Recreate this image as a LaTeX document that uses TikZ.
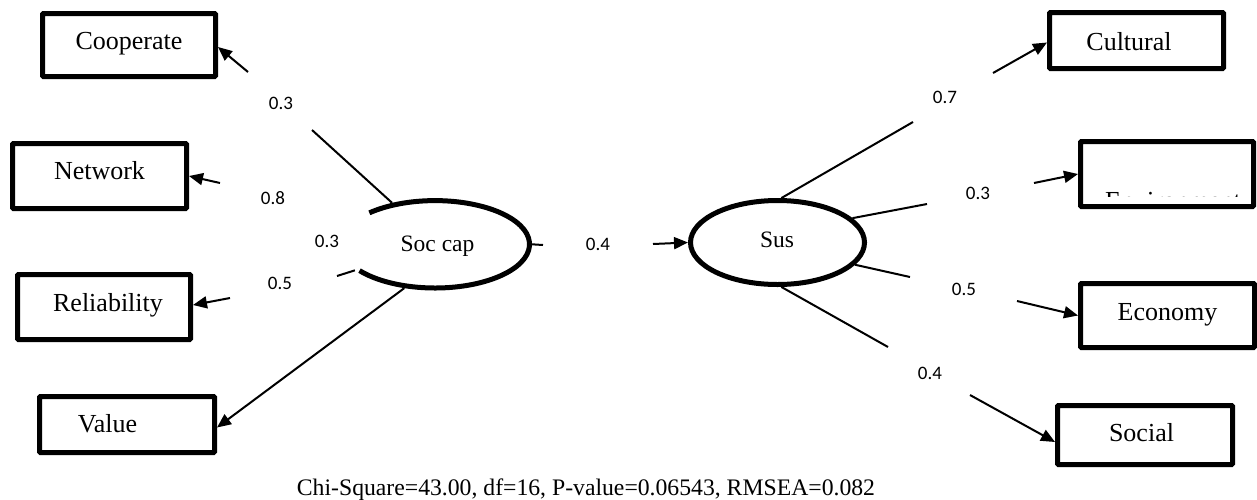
\documentclass[tikz,border=0pt]{standalone}
\usepackage{fontspec}
\setmainfont{Liberation Serif}
\newfontfamily\lblfont{Carlito}
\usetikzlibrary{arrows.meta,shapes.geometric,calc}
\tikzset{
  obsbox/.style={draw, line width=5pt, rounded corners=1pt, inner sep=0pt},
  boxtxt/.style={anchor=base, inner sep=0pt, font=\fontsize{26}{30}\selectfont},
  lat/.style={ellipse, line width=5pt, inner sep=0pt},
  lattxt/.style={anchor=base, inner sep=0pt, font=\fontsize{23.5}{28}\selectfont},
  ln/.style={line width=2pt},
  arr/.style={line width=2pt, -{Triangle[length=14pt,width=12pt]}},
  coef/.style={font=\lblfont\fontsize{19}{22}\selectfont, inner sep=0pt}
}
\begin{document}
\begin{tikzpicture}[x=1pt,y=-1pt]
\useasboundingbox (0,0) rectangle (1257,499);

% observed boxes
\node[obsbox, minimum width=173pt, minimum height=63pt] (coop) at (129,45) {};
\node[boxtxt] (cooptxt) at (129,49.5) {Cooperate};
\node[obsbox, minimum width=174pt, minimum height=65pt] (net) at (99.5,176) {};
\node[boxtxt] (nettxt) at (99.5,179.3) {Network};
\node[obsbox, minimum width=173pt, minimum height=65pt] (rel) at (104,307) {};
\node[boxtxt] (reltxt) at (108,311) {Reliability};
\node[obsbox, minimum width=175pt, minimum height=56pt] (val) at (127,424.5) {};
\node[boxtxt] (valtxt) at (107.5,432.7) {Value};
\node[obsbox, minimum width=174pt, minimum height=56pt] (cult) at (1136.5,40.5) {};
\node[boxtxt] (culttxt) at (1129,50) {Cultural};
\node[obsbox, minimum width=173pt, minimum height=65pt] (env) at (1167,174) {};
\begin{scope}
  \clip (1081,142) rectangle (1253,196);
  \node[boxtxt] (envtxt) at (1173,209.5) {Environment};
\end{scope}
\node[obsbox, minimum width=174pt, minimum height=64pt] (econ) at (1167.5,315.5) {};
\node[boxtxt] (econtxt) at (1167.5,320) {Economy};
\node[obsbox, minimum width=175pt, minimum height=59pt] (soc) at (1145,435) {};
\node[boxtxt] (soctxt) at (1141.5,441.7) {Social};

% latent variables
\node[lat, minimum width=189pt, minimum height=87.4pt] (soccap) at (435,244.3) {};
\draw[line width=5pt] ($(soccap.center)+(-143:94.5pt and 43.7pt)$)
  arc[start angle=-143, end angle=134, x radius=94.5pt, y radius=43.7pt];
\node[lattxt] (soccaptxt) at (437.5,251.7) {Soc cap};
\node[lat, draw, minimum width=174pt, minimum height=84pt] (sus) at (777.5,242.5) {};
\node[lattxt] (sustxt) at (777,247.3) {Sus};

% gap end points of the connectors
\coordinate (g1) at (312,130);  \coordinate (g2) at (248,72);
\coordinate (g3) at (220,183);
\coordinate (g4) at (337,276);  \coordinate (g5) at (230,298);
\coordinate (g6) at (543,245);  \coordinate (g7) at (653,244);
\coordinate (g8) at (913,122);  \coordinate (g9) at (993,73);
\coordinate (g10) at (927,204); \coordinate (g11) at (1034,183);
\coordinate (g12) at (910,277); \coordinate (g13) at (1017,301);
\coordinate (g14) at (888,347); \coordinate (g15) at (970,395);

% connectors
\draw[ln] (soccap.136) -- (g1);
\draw[arr] (g2) -- ([yshift=-2pt]coop.east);
\draw[arr] (g3) -- (net.east);
\draw[ln] (soccap.198) -- (g4);
\draw[arr] (g5) -- ([yshift=2pt]rel.east);
\draw[arr] (soccap.235) -- ([yshift=-3pt]val.east);
\draw[ln] (soccap.east) -- (g6);
\draw[arr] (g7) -- (sus.west);
\draw[ln] (sus.85) -- (g8);
\draw[arr] (g9) -- ([yshift=-2pt]cult.west);
\draw[ln] (sus.18) -- (g10);
\draw[arr] (g11) -- (env.west);
\draw[ln] (sus.-16) -- (g12);
\draw[arr] (g13) -- (econ.west);
\draw[ln] (sus.-85) -- (g14);
\draw[arr] (g15) -- ([yshift=-7pt]soc.west);

% coefficients
\node[coef] (l1) at (281,103) {0.3};
\node[coef] (l2) at (273,198) {0.8};
\node[coef] (l3) at (327,241) {0.3};
\node[coef] (l4) at (280,283) {0.5};
\node[coef] (l5) at (598,244) {0.4};
\node[coef] (l6) at (945,97) {0.7};
\node[coef] (l7) at (978,193) {0.3};
\node[coef] (l8) at (964,289) {0.5};
\node[coef] (l9) at (930,373) {0.4};

% fit statistics
\node[anchor=base, inner sep=0pt, font=\fontsize{23.7}{28}\selectfont] (fit) at (586,495)
  {Chi-Square=43.00, df=16, P-value=0.06543, RMSEA=0.082};
\end{tikzpicture}
\end{document}
